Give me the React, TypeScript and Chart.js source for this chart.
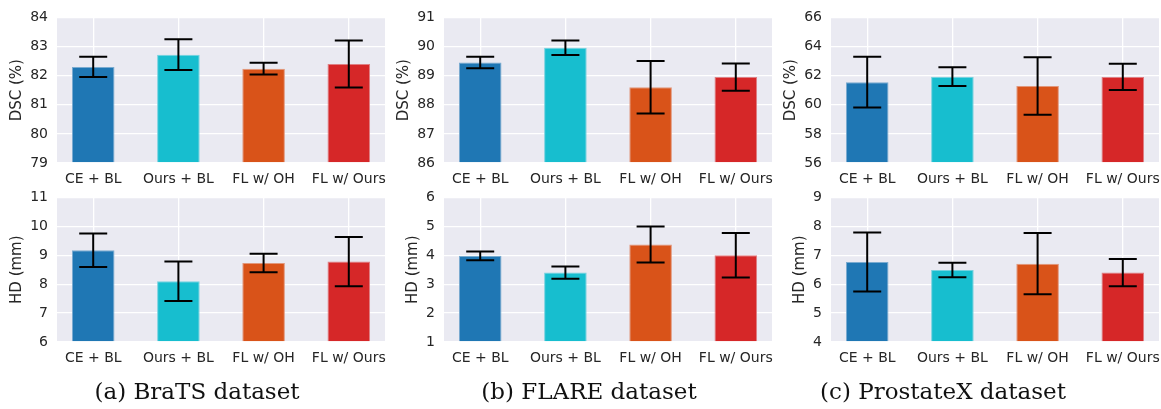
import React, { useEffect, useRef } from "react";
import { Chart, registerables } from "chart.js";

Chart.register(...registerables);

// ---------- data ----------
const categories = ["CE + BL", "Ours + BL", "FL w/ OH", "FL w/ Ours"];
const barColors = ["#1f77b4", "#17becf", "#d95319", "#d62728"];

const bratsDsc = [82.3, 82.72, 82.24, 82.4];
const bratsDscErr = [0.35, 0.53, 0.2, 0.81];
const bratsHd = [9.17, 8.1, 8.73, 8.78];
const bratsHdErr = [0.58, 0.68, 0.32, 0.85];

const flareDsc = [89.45, 89.96, 88.6, 88.95];
const flareDscErr = [0.2, 0.25, 0.9, 0.47];
const flareHd = [3.98, 3.4, 4.37, 4.0];
const flareHdErr = [0.15, 0.21, 0.62, 0.77];

const prostDsc = [61.55, 61.93, 61.29, 61.91];
const prostDscErr = [1.74, 0.64, 1.98, 0.9];
const prostHd = [6.77, 6.49, 6.71, 6.4];
const prostHdErr = [1.02, 0.25, 1.06, 0.47];

const captions = ["(a) BraTS dataset", "(b) FLARE dataset", "(c) ProstateX dataset"];
const dscTitle = "DSC (%)";
const hdTitle = "HD (mm)";

// axis ranges [min, max, step]
const bratsDscRange = [79, 84, 1];
const bratsHdRange = [6, 11, 1];
const flareDscRange = [86, 91, 1];
const flareHdRange = [1, 6, 1];
const prostDscRange = [56, 66, 2];
const prostHdRange = [4, 9, 1];

// ---------- layout ----------
const W = 1161;
const H = 409;
const colPlotLeft = [57, 444, 831];
const colPlotRight = [385, 772, 1159];
const rowPlotTop = [15, 195];
const rowPlotBottom = [163, 342];
const captionCenters = [197, 589, 943];
const Y_AXIS_W = 57;
const X_AXIS_H = 30;
const PAD_TOP = 15;
const PAD_RIGHT = 12;

const TICK_FONT = "DejaVu Sans";
const TEXT_COLOR = "#262626";
const BG = "#EAEAF2";

function mix(hex: string, t: number): string {
  const c = parseInt(hex.slice(1), 16);
  const r = (c >> 16) & 255, g = (c >> 8) & 255, b = c & 255;
  const br = 0xea, bg = 0xea, bb = 0xf2;
  const m = (a: number, z: number) => Math.round(a * (1 - t) + z * t);
  return `rgb(${m(r, br)},${m(g, bg)},${m(b, bb)})`;
}

type PanelDef = {
  col: number;
  row: number;
  values: number[];
  errors: number[];
  range: number[];
  title: string;
};

const panels: PanelDef[] = [
  { col: 0, row: 0, values: bratsDsc, errors: bratsDscErr, range: bratsDscRange, title: dscTitle },
  { col: 0, row: 1, values: bratsHd, errors: bratsHdErr, range: bratsHdRange, title: hdTitle },
  { col: 1, row: 0, values: flareDsc, errors: flareDscErr, range: flareDscRange, title: dscTitle },
  { col: 1, row: 1, values: flareHd, errors: flareHdErr, range: flareHdRange, title: hdTitle },
  { col: 2, row: 0, values: prostDsc, errors: prostDscErr, range: prostDscRange, title: dscTitle },
  { col: 2, row: 1, values: prostHd, errors: prostHdErr, range: prostHdRange, title: hdTitle },
];

const bgPlugin = {
  id: "plotBg",
  beforeDraw(chart: any) {
    const { ctx, chartArea } = chart;
    ctx.save();
    ctx.fillStyle = BG;
    ctx.fillRect(chartArea.left, chartArea.top, chartArea.right - chartArea.left, chartArea.bottom - chartArea.top);
    ctx.restore();
  },
};

const errorBarPlugin = {
  id: "errorBars",
  afterDatasetsDraw(chart: any, _args: any, opts: any) {
    const errs: number[] = opts.errors || [];
    const vals: number[] = opts.values || [];
    const { ctx } = chart;
    const xs = chart.scales.x;
    const ys = chart.scales.y;
    ctx.save();
    ctx.strokeStyle = "#000000";
    ctx.lineWidth = 2;
    ctx.lineCap = "butt";
    vals.forEach((v, i) => {
      const x = xs.getPixelForValue(i);
      const yt = ys.getPixelForValue(v + errs[i]);
      const yb = ys.getPixelForValue(v - errs[i]);
      const half = 14;
      ctx.beginPath();
      ctx.moveTo(x, yt);
      ctx.lineTo(x, yb);
      ctx.moveTo(x - half, yt);
      ctx.lineTo(x + half, yt);
      ctx.moveTo(x - half, yb);
      ctx.lineTo(x + half, yb);
      ctx.stroke();
    });
    ctx.restore();
  },
};

function BarPanel({ p }: { p: PanelDef }) {
  const ref = useRef<HTMLCanvasElement | null>(null);
  const plotLeft = colPlotLeft[p.col];
  const plotRight = colPlotRight[p.col];
  const plotTop = rowPlotTop[p.row];
  const plotBottom = rowPlotBottom[p.row];
  const left = plotLeft - Y_AXIS_W;
  const top = plotTop - PAD_TOP;
  const width = plotRight + PAD_RIGHT - left;
  const height = plotBottom - top + X_AXIS_H;
  const twoDigit = String(p.range[1]).length > 1;
  const titleCenter = twoDigit ? 17 : 26;
  const titleSize = 15;
  const titlePad = titleCenter - (titleSize * 1.2) / 2;

  useEffect(() => {
    if (!ref.current) return;
    const [yMin, yMax, yStep] = p.range;
    const chart = new Chart(ref.current, {
      type: "bar",
      data: {
        datasets: [
          {
            data: p.values.map((v, i) => ({ x: i, y: v })),
            backgroundColor: barColors,
            borderColor: barColors.map((c) => mix(c, 0.45)),
            borderWidth: 1,
            borderSkipped: "start",
            barPercentage: 0.5,
            categoryPercentage: 1.0,
            base: yMin,
          } as any,
        ],
      },
      options: {
        responsive: false,
        animation: false,
        events: [],
        layout: { padding: { left: 0, top: PAD_TOP, right: PAD_RIGHT, bottom: 0 } },
        plugins: {
          legend: { display: false },
          tooltip: { enabled: false },
          title: { display: false },
          errorBars: { values: p.values, errors: p.errors },
        } as any,
        scales: {
          x: {
            type: "linear",
            offset: false,
            min: -0.425,
            max: 3.425,
            afterBuildTicks: (scale: any) => {
              scale.ticks = categories.map((_, i) => ({ value: i }));
            },
            afterFit: (scale: any) => {
              scale.height = X_AXIS_H;
            },
            ticks: {
              autoSkip: false,
              maxRotation: 0,
              minRotation: 0,
              padding: 8,
              color: TEXT_COLOR,
              font: { family: TICK_FONT, size: 14 },
              callback: (v: any) => categories[Math.round(Number(v))] ?? "",
            },
            grid: { color: "#ffffff", lineWidth: 1.3, drawTicks: false, offset: false },
            border: { display: false },
          },
          y: {
            type: "linear",
            min: yMin,
            max: yMax,
            afterFit: (scale: any) => {
              scale.width = Y_AXIS_W;
            },
            ticks: {
              stepSize: yStep,
              padding: 9,
              color: TEXT_COLOR,
              font: { family: TICK_FONT, size: 14 },
            },
            grid: { color: "#ffffff", lineWidth: 1.3, drawTicks: false },
            border: { display: false },
            title: {
              display: true,
              text: p.title,
              color: TEXT_COLOR,
              font: { family: TICK_FONT, size: titleSize },
              padding: { top: titlePad, bottom: 0 },
            },
          },
        },
      } as any,
      plugins: [bgPlugin, errorBarPlugin],
    });
    return () => chart.destroy();
  }, []);

  return (
    <canvas
      ref={ref}
      width={width}
      height={height}
      style={{ position: "absolute", left, top, width, height }}
    />
  );
}

export default function App() {
  return (
    <div
      style={{
        position: "fixed",
        left: 0,
        top: 0,
        width: W,
        height: H,
        background: "#ffffff",
        overflow: "hidden",
      }}
    >
      {panels.map((p, i) => (
        <BarPanel key={i} p={p} />
      ))}
      {captions.map((c, i) => (
        <div
          key={c}
          style={{
            position: "absolute",
            left: captionCenters[i],
            top: 380,
            transform: "translateX(-50%)",
            whiteSpace: "nowrap",
            fontFamily: "'DejaVu Serif', serif",
            fontSize: 23,
            lineHeight: "23px",
            color: "#111111",
          }}
        >
          {c}
        </div>
      ))}
    </div>
  );
}
